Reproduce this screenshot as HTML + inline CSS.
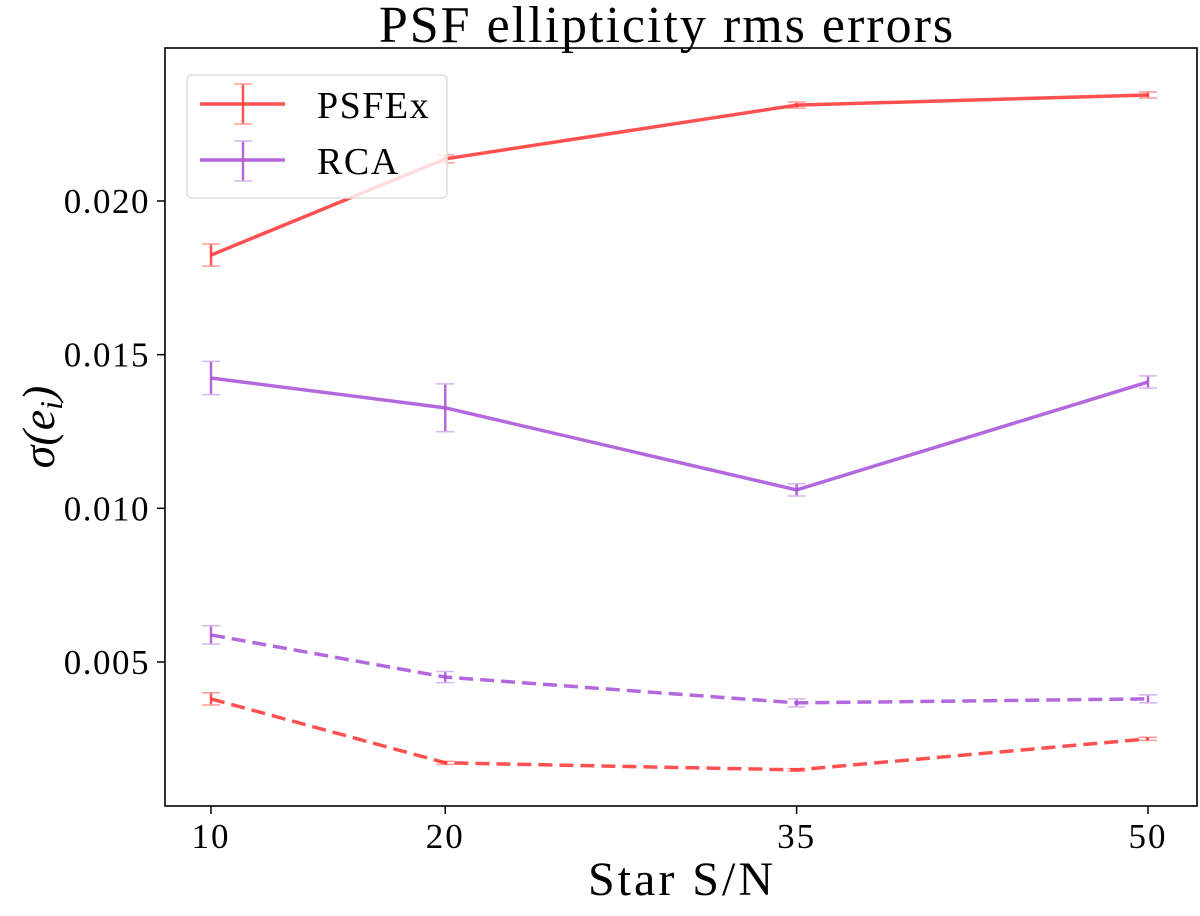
<!DOCTYPE html>
<html><head><meta charset="utf-8"><style>
html,body{margin:0;padding:0;background:#fff;}
svg{display:block;font-family:"Liberation Serif","DejaVu Serif",serif;}
</style></head><body>
<svg id="chart" width="1200" height="916" viewBox="0 0 1200 916" xmlns="http://www.w3.org/2000/svg">
<text x="667" y="42" font-size="52" letter-spacing="2" text-anchor="middle">PSF ellipticity rms errors</text>
<g id="plot"></g>
<rect x="165" y="48" width="1032" height="758" fill="none" stroke="#000" stroke-width="1.6"/>
<text x="682" y="895" font-size="48" letter-spacing="3" text-anchor="middle">Star S/N</text>
<text transform="translate(54,427) rotate(-90)" font-size="46" text-anchor="middle" font-style="italic">σ(e<tspan font-size="32" dy="8">i</tspan><tspan dy="-8">)</tspan></text>
<g>
<rect x="187" y="75" width="260" height="123" rx="5" fill="#fff" fill-opacity="0.8" stroke="#ddd" stroke-width="1.5"/>
<g>
<line x1="200" y1="104" x2="285" y2="104" stroke="#ff3333" stroke-opacity="0.85" stroke-width="3.5"/>
<line x1="243" y1="84" x2="243" y2="124" stroke="#ff3333" stroke-opacity="0.85" stroke-width="2.5"/>
<line x1="234" y1="84" x2="252" y2="84" stroke="#ff9999" stroke-width="1.5"/>
<line x1="234" y1="124" x2="252" y2="124" stroke="#ff9999" stroke-width="1.5"/>
<text x="317" y="118" font-size="38" letter-spacing="1.5">PSFEx</text></g>
<g>
<line x1="200" y1="160" x2="285" y2="160" stroke="#a64dd8" stroke-opacity="0.85" stroke-width="3.5"/>
<line x1="243" y1="141" x2="243" y2="181" stroke="#a64dd8" stroke-opacity="0.85" stroke-width="2.5"/>
<line x1="234" y1="141" x2="252" y2="141" stroke="#d9b3ee" stroke-width="1.5"/>
<line x1="234" y1="181" x2="252" y2="181" stroke="#d9b3ee" stroke-width="1.5"/>
<text x="317" y="174" font-size="38" letter-spacing="1.5">RCA</text></g>
</g>
</svg>
<script>
const xValues=[10,20,35,50];
const yTicks=[0.005,0.010,0.015,0.020];
const yTickLabels=["0.005","0.010","0.015","0.020"];
const psfexSolid=[0.01824,0.02137,0.02312,0.02345];
const psfexSolidErr=[0.00036,0.00013,0.0001,0.0001];
const rcaSolid=[0.01424,0.01327,0.0106,0.01411];
const rcaSolidErr=[0.00054,0.00078,0.0002,0.0002];
const rcaDashed=[0.00588,0.00451,0.00367,0.0038];
const rcaDashedErr=[0.0003,0.00018,0.00013,0.00013];
const psfexDashed=[0.0038,0.00172,0.00149,0.0025];
const psfexDashedErr=[0.0002,0.00005,0.00004,0.00005];
const NS="http://www.w3.org/2000/svg";
const X=v=>211+(v-10)*(1148-211)/40;
const Y=v=>201+(0.020-v)*(662-201)/0.015;
const g=document.getElementById('plot');
function mk(t,a){const e=document.createElementNS(NS,t);for(const k in a)e.setAttribute(k,a[k]);g.appendChild(e);return e;}
xValues.forEach(v=>{
 const t=mk('line',{x1:X(v),x2:X(v),y1:806,y2:814,stroke:'#000','stroke-width':1.5});
 
 
 const l=mk('text',{x:X(v),y:848,'font-size':35,'letter-spacing':2,'text-anchor':'middle'});l.textContent=v;
 
 
});
yTicks.forEach((v,i)=>{
 const t=mk('line',{x1:157,x2:165,y1:Y(v),y2:Y(v),stroke:'#000','stroke-width':1.5});
 
 
 const l=mk('text',{x:150,y:Y(v)+12,'font-size':35,'letter-spacing':1.5,'text-anchor':'end'});l.textContent=yTickLabels[i];
 
 
});
function series(vals,errs,col,cap,dash,name){
 errs.forEach((e,i)=>{
  const x=X(xValues[i]);
  const b=mk('line',{x1:x,x2:x,y1:Y(vals[i]+e),y2:Y(vals[i]-e),stroke:col,'stroke-opacity':0.85,'stroke-width':2.5});
  
  
  [vals[i]+e,vals[i]-e].forEach(c=>{const k=mk('line',{x1:x-9,x2:x+9,y1:Y(c),y2:Y(c),stroke:cap,'stroke-width':1.5});
   
   });
 });
 const p=mk('polyline',{points:vals.map((v,i)=>X(xValues[i])+','+Y(v)).join(' '),fill:'none',stroke:col,'stroke-opacity':0.85,'stroke-width':3.5});
 if(dash)p.setAttribute('stroke-dasharray','14 7');
 
 
}
series(psfexSolid,psfexSolidErr,'#ff3333','#ff9999',false,'psfex-solid');
series(rcaSolid,rcaSolidErr,'#a64dd8','#d9b3ee',false,'rca-solid');
series(rcaDashed,rcaDashedErr,'#a64dd8','#d9b3ee',true,'rca-dashed');
series(psfexDashed,psfexDashedErr,'#ff3333','#ff9999',true,'psfex-dashed');
</script>
</body></html>
